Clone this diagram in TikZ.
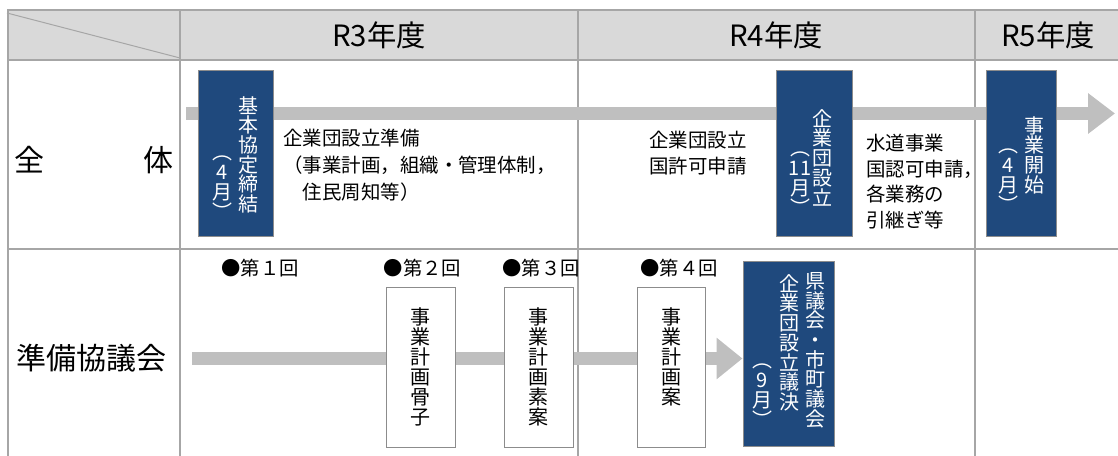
\documentclass[tikz,border=0pt]{standalone}
\usepackage{fontspec}
\setmainfont{Noto Sans CJK JP}
\usetikzlibrary{arrows.meta}
\definecolor{gridc}{HTML}{A6A6A6}
\definecolor{headc}{HTML}{D9D9D9}
\definecolor{barc}{HTML}{BFBFBF}
\definecolor{bluec}{HTML}{1F497D}
\definecolor{boxline}{HTML}{8C8C8C}
\begin{document}
\begin{tikzpicture}[x=0.75pt,y=-0.75pt,
  grid/.style={draw=gridc,line width=1.5pt},
  bar/.style={draw=barc,line width=9.75pt},
  bluebox/.style={draw=boxline,line width=0.75pt,fill=bluec,inner sep=0pt},
  whitebox/.style={draw=boxline,line width=0.75pt,fill=white,inner sep=0pt},
  vcolw/.style={text=white,inner sep=0pt,align=center,font=\fontsize{15}{14.8}\selectfont,anchor=north},
  vcolk/.style={text=black,inner sep=0pt,align=center,font=\fontsize{15}{15}\selectfont,anchor=north},
  head/.style={font=\fontsize{22}{24}\selectfont,inner sep=0pt},
  rowlab/.style={font=\fontsize{22.5}{24}\selectfont,inner sep=0pt},
  body/.style={font=\fontsize{14.6}{20}\selectfont,inner sep=0pt},
  mtg/.style={font=\fontsize{14.5}{16}\selectfont,inner sep=0pt}]
\useasboundingbox (0,0) rectangle (1118,456);
% header background
\fill[headc] (7,10) rectangle (1118,60);
\draw[draw=gridc,line width=0.75pt] (7,13) -- (180,58);
% grid
\draw[grid] (7,10.5) -- (1118,10.5);
\draw[grid] (7,60) -- (1118,60);
\draw[grid] (7,249) -- (1118,249);
\draw[grid] (7.5,10) -- (7.5,456);
\draw[grid] (180,10) -- (180,456);
\draw[grid] (578,10) -- (578,456);
\draw[grid] (975,10) -- (975,456);
% header texts
\node[head] (h3) at (379,35) {R3年度};
\node[head] (h4) at (776,35) {R4年度};
\node[head] (h5) at (1048,35) {R5年度};
% row labels
\node[rowlab] (l1a) at (29,160) {全};
\node[rowlab] (l1b) at (158,160) {体};
\node[rowlab] (l2) at (91.5,358) {準備協議会};
% row 1 bar
\coordinate (s1) at (186,113.5);
\coordinate (e1) at (1115,113.5);
\draw[bar,-{Triangle[length=20.25pt,width=29.25pt]}] (s1) -- (e1);
% row 1 boxes
\node[bluebox,minimum width=56.25pt,minimum height=124.5pt] (b1) at (235.5,154) {};
\node[bluebox,minimum width=57pt,minimum height=124.5pt] (b2) at (814,154) {};
\node[bluebox,minimum width=52.5pt,minimum height=124.5pt] (b3) at (1021,154) {};
\node[vcolw] (b1r) at (248,96) {基\\本\\協\\定\\締\\結};
\node[vcolw] (b1l) at (222,156) {︵\\4\\月\\︶};
\node[vcolw] (b2r) at (822,109) {企\\業\\団\\設\\立};
\node[vcolw] (b2l) at (800,152) {︵\\11\\月\\︶};
\node[vcolw] (b3r) at (1034,116) {事\\業\\開\\始};
\node[vcolw] (b3l) at (1008,149) {︵\\4\\月\\︶};
% row 1 texts
\node[body,align=left,anchor=north west] (t1) at (283,129) {企業団設立準備\\（事業計画，組織・管理体制，\\　住民周知等）};
\node[body,align=center,anchor=north,font=\fontsize{14.6}{19.5}\selectfont] (t2) at (698,131) {企業団設立\\国許可申請};
\node[body,align=left,anchor=north west,font=\fontsize{14.6}{19.2}\selectfont] (t3) at (866,134) {水道事業\\国認可申請，\\各業務の\\引継ぎ等};
% row 2
\node[bluebox,minimum width=68.25pt,minimum height=138pt] (kb) at (788.5,354) {};
\coordinate (s2) at (192,358.5);
\draw[bar,-{Triangle[length=19.5pt,width=30pt]}] (s2) -- (s2 -| kb.west);
\node[whitebox,minimum width=51.75pt,minimum height=120pt] (w1) at (420.5,367) {};
\node[whitebox,minimum width=51.75pt,minimum height=120pt] (w2) at (538.5,367) {};
\node[whitebox,minimum width=51pt,minimum height=120pt] (w3) at (671,367) {};
\node[vcolk] (w1t) at (420.5,307) {事\\業\\計\\画\\骨\\子};
\node[vcolk] (w2t) at (538.5,307) {事\\業\\計\\画\\素\\案};
\node[vcolk] (w3t) at (671,307) {事\\業\\計\\画\\案};
\node[vcolw] (kbr) at (815,272) {県\\議\\会\\・\\市\\町\\議\\会};
\node[vcolw] (kbm) at (789,274) {企\\業\\団\\設\\立\\議\\決};
\node[vcolw] (kbl) at (762,364) {︵\\9\\月\\︶};
% meeting labels
\node[mtg] (m1) at (260,268) {●第１回};
\node[mtg] (m2) at (422.5,268) {●第２回};
\node[mtg] (m3) at (541,268) {●第３回};
\node[mtg] (m4) at (679,268) {●第４回};
\end{tikzpicture}
\end{document}
